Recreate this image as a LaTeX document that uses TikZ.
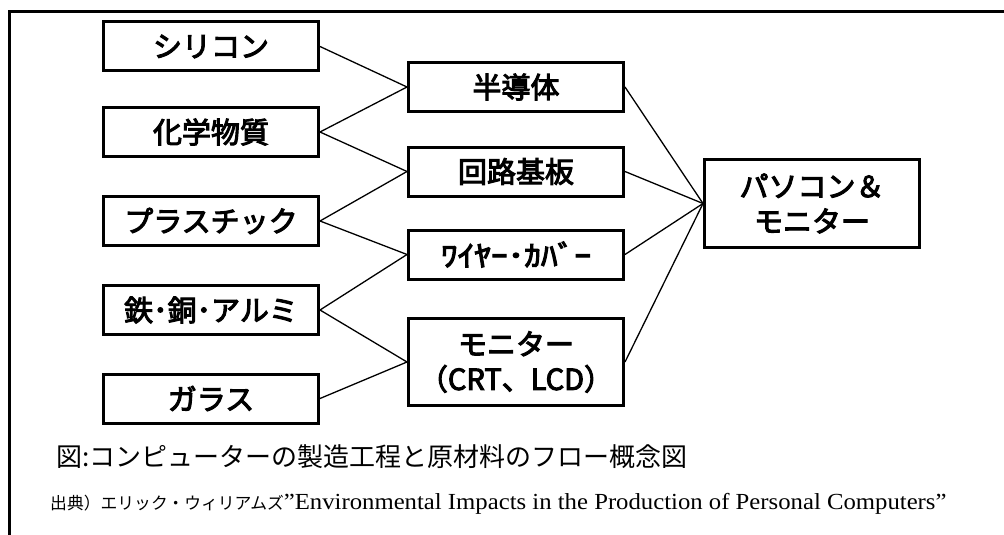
\documentclass[tikz,border=0pt]{standalone}
\usepackage{fontspec}
\newfontfamily\jp{Noto Sans CJK JP}
\newfontfamily\jpb{Noto Sans CJK JP}[FakeBold=3.5]
\newfontfamily\enserif{Liberation Serif}
\begin{document}
\begin{tikzpicture}[x=1pt,y=-1pt,
  box/.style={draw=black,line width=3pt,minimum width=215pt,inner sep=0pt,align=center,
    font=\jpb\fontsize{29}{35}\selectfont},
  conn/.style={draw=black,line width=1.3pt}]
\useasboundingbox (0,0) rectangle (1004,535);
\fill[white] (0,0) rectangle (1004,535);
\draw[line width=3pt] (9.5,545) -- (9.5,12) -- (1015,12);
% left boxes
\node[box,minimum height=49pt] (sil) at (211,46.5) {シリコン};
\node[box,minimum height=49pt] (chem) at (211,132) {化学物質};
\node[box,minimum height=49pt] (plas) at (211,221) {プラスチック};
\node[box,minimum height=49pt] (iron) at (211,310) {鉄･銅･アルミ};
\node[box,minimum height=49pt] (glass) at (211,398.5) {ガラス};
% middle boxes
\node[box,minimum height=49pt] (semi) at (516,87) {半導体};
\node[box,minimum height=49pt] (board) at (516,171.5) {回路基板};
\node[box,minimum height=49pt] (wire) at (516,254.5) {\scalebox{1.15}[1]{ﾜｲﾔｰ･ｶﾊﾞｰ}};
\node[box,minimum height=87pt] (mon) at (516,362) {モニター\\（CRT、LCD）};
% right box
\node[box,minimum height=88pt] (pc) at (812,203.5) {パソコン＆\\モニター};
% connectors
\draw[conn] (sil.east) -- (semi.west);
\draw[conn] (chem.east) -- (semi.west);
\draw[conn] (chem.east) -- (board.west);
\draw[conn] (plas.east) -- (board.west);
\draw[conn] (plas.east) -- (wire.west);
\draw[conn] (iron.east) -- (wire.west);
\draw[conn] (iron.east) -- (mon.west);
\draw[conn] (glass.east) -- (mon.west);
\draw[conn] (semi.east) -- (pc.west);
\draw[conn] (board.east) -- (pc.west);
\draw[conn] (wire.east) -- (pc.west);
\draw[conn] (mon.east) -- (pc.west);
% captions
\node[anchor=west,inner sep=0pt,font=\jp\fontsize{26}{30}\selectfont] (cap) at (56,457) {図:コンピューターの製造工程と原材料のフロー概念図};
\node[anchor=base west,inner sep=0pt] (src) at (50,509) {{\jp\fontsize{16.8}{18}\selectfont 出典）エリック・ウィリアムズ}{\enserif\fontsize{23}{25}\selectfont\scalebox{1.075}[1]{”Environmental Impacts in the Production of Personal Computers”}}};
\end{tikzpicture}
\end{document}
